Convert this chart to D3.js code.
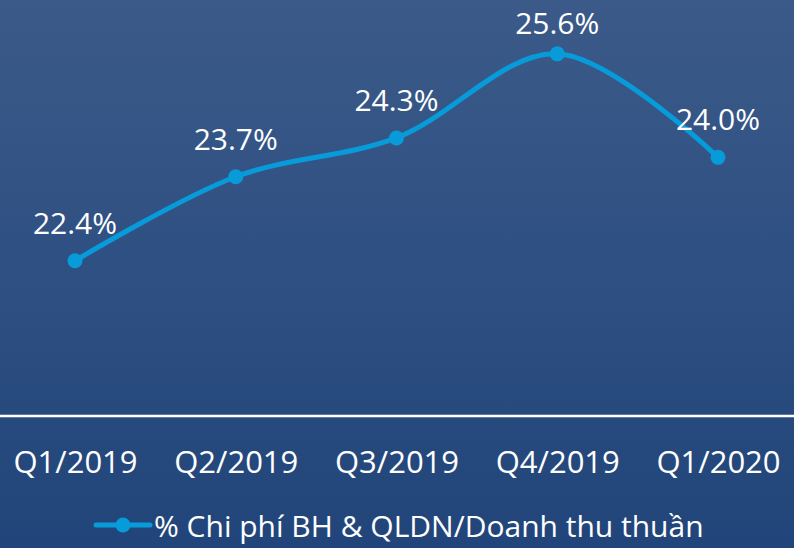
<!DOCTYPE html>
<html><head><meta charset="utf-8">
<script src="https://cdn.jsdelivr.net/npm/d3@7"></script>
<style>html,body{margin:0;padding:0;background:#2d4f80;}svg{display:block;}</style>
</head><body>
<svg id="chart" width="794" height="548"></svg>
<script>
const categories = ["Q1/2019","Q2/2019","Q3/2019","Q4/2019","Q1/2020"];
const values = [22.4, 23.7, 24.3, 25.6, 24.0];
const valueLabels = ["22.4%","23.7%","24.3%","25.6%","24.0%"];
const seriesName = "% Chi phí BH & QLDN/Doanh thu thuần";
const yDomain = [20, 26];

const W = 794, H = 548;
const svg = d3.select("#chart");
const defs = svg.append("defs");
const grad = defs.append("linearGradient").attr("id","bg").attr("x1",0).attr("y1",0).attr("x2",0).attr("y2",1);
grad.append("stop").attr("offset","0%").attr("stop-color","#3b5a89");
grad.append("stop").attr("offset","100%").attr("stop-color","#21457a");
svg.append("rect").attr("width",W).attr("height",H).attr("fill","url(#bg)");

const x = d3.scalePoint().domain(categories).range([75, 718]);
const y = d3.scaleLinear().domain(yDomain).range([416, 28]);
const color = "#079bd9";
const font = "'Open Sans', 'Noto Sans', sans-serif";

// axis
const xAxis = svg.append("g").attr("transform", `translate(0,${y(yDomain[0])})`)
  .call(d3.axisBottom(x).tickSize(0).tickPadding(0));
xAxis.select(".domain").remove();
xAxis.append("line").attr("x1",0).attr("x2",W).attr("y1",0).attr("y2",0)
  .attr("stroke","#ffffff").attr("stroke-width",2.5);
xAxis.selectAll(".tick text").attr("fill","#ffffff").attr("font-family",font)
  .attr("font-size",31).attr("dy",null).attr("y",57);

const data = categories.map((c,i)=>({c, v: values[i], l: valueLabels[i]}));
const line = d3.line().x(d=>x(d.c)).y(d=>y(d.v)).curve(d3.curveCatmullRom.alpha(0.5));
svg.append("path").datum(data).attr("d",line).attr("fill","none")
  .attr("stroke",color).attr("stroke-width",5).attr("stroke-linecap","round");
svg.selectAll("circle.pt").data(data).join("circle").attr("class","pt")
  .attr("cx",d=>x(d.c)).attr("cy",d=>y(d.v)).attr("r",7.5).attr("fill",color);
svg.selectAll("text.lbl").data(data).join("text").attr("class","lbl")
  .attr("x",d=>x(d.c)).attr("y",d=>Math.max(34, y(d.v)-27)).attr("text-anchor","middle")
  .attr("fill","#ffffff").attr("font-family",font).attr("font-size",30).text(d=>d.l);

// legend
const lg = svg.append("g");
lg.append("line").attr("x1",96).attr("x2",150).attr("y1",525).attr("y2",525)
  .attr("stroke",color).attr("stroke-width",5).attr("stroke-linecap","round");
lg.append("circle").attr("cx",123).attr("cy",525).attr("r",7.5).attr("fill",color);
lg.append("text").attr("x",154).attr("y",537).attr("fill","#ffffff")
  .attr("font-family",font).attr("font-size",30).text(seriesName);
</script>
</body></html>
